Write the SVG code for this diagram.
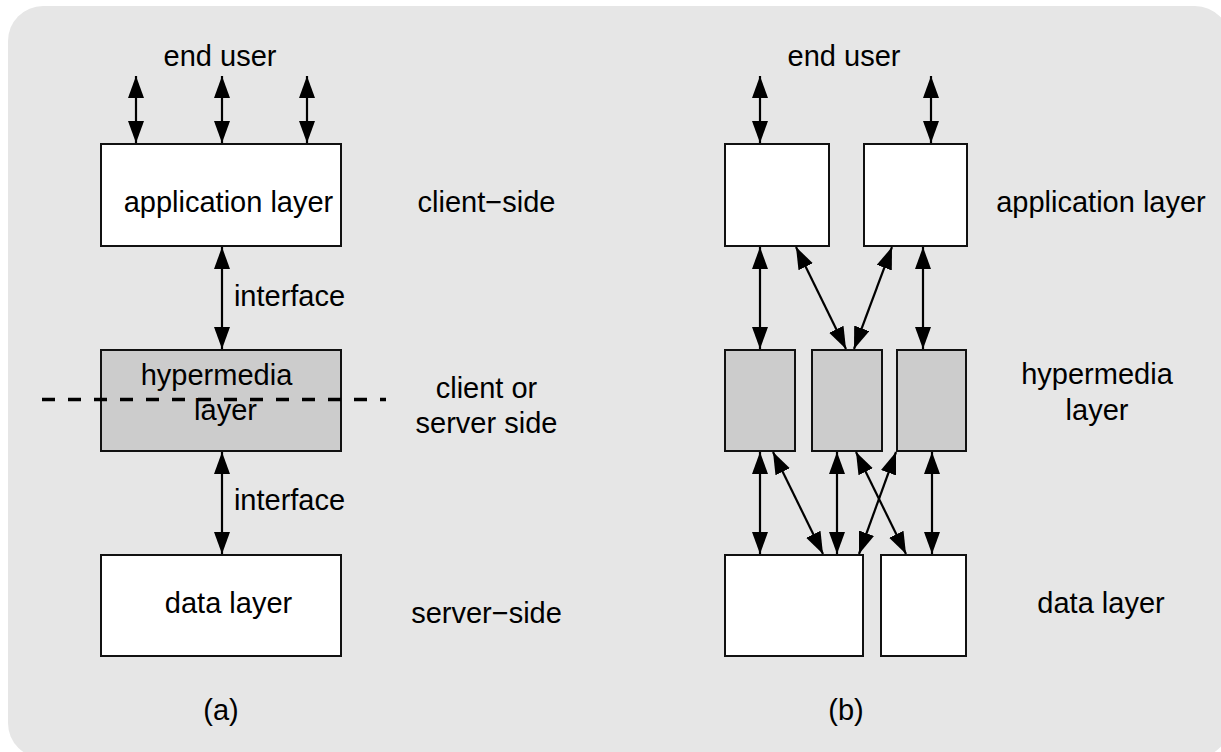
<svg xmlns="http://www.w3.org/2000/svg" width="1221" height="752" viewBox="0 0 1221 752">
<style>
text{font-family:"Liberation Sans",Arial,sans-serif;font-size:29px;fill:#000;text-anchor:middle}
.box{fill:#fff;stroke:#111;stroke-width:2}
.hyp{fill:#ccc;stroke:#111;stroke-width:2}
.c line{stroke:#000;stroke-width:2.2;marker-start:url(#ah);marker-end:url(#ah)}
</style>
<defs>
<marker id="ah" markerUnits="userSpaceOnUse" markerWidth="24" markerHeight="17" refX="22" refY="8" orient="auto-start-reverse" viewBox="0 0 24 17">
<path d="M0,0 L22,8 L0,16 z" fill="#000"/>
</marker>
</defs>
<rect x="8" y="6" width="1222" height="752" rx="35" ry="35" fill="#e6e6e6"/>

<g id="a-app"><rect class="box" x="101" y="144" width="240" height="102"/><text x="228.5" y="212">application layer</text></g>
<g id="a-hyp"><rect class="hyp" x="101" y="350" width="240" height="101"/><text x="216.5" y="385">hypermedia</text><text x="225.5" y="420">layer</text></g>
<g id="a-data"><rect class="box" x="101" y="555" width="240" height="101"/><text x="228.5" y="613">data layer</text></g>

<g id="b-app1"><rect class="box" x="725" y="144" width="104" height="102"/></g>
<g id="b-app2"><rect class="box" x="864" y="144" width="103" height="102"/></g>
<g id="b-hyp1"><rect class="hyp" x="725" y="350" width="70" height="101"/></g>
<g id="b-hyp2"><rect class="hyp" x="812" y="350" width="70" height="101"/></g>
<g id="b-hyp3"><rect class="hyp" x="897" y="350" width="69" height="101"/></g>
<g id="b-data1"><rect class="box" x="725" y="555" width="138" height="101"/></g>
<g id="b-data2"><rect class="box" x="881" y="555" width="85" height="101"/></g>

<g id="dash"><line x1="42" y1="399.5" x2="386" y2="399.5" stroke="#000" stroke-width="3.5" stroke-dasharray="13 13"/></g>

<g class="c" id="connectors">
<line x1="136" y1="76" x2="136" y2="143"/>
<line x1="222" y1="76" x2="222" y2="143"/>
<line x1="307" y1="76" x2="307" y2="143"/>
<line x1="222" y1="247" x2="222" y2="349"/>
<line x1="222" y1="452" x2="222" y2="554"/>
<line x1="760" y1="76" x2="760" y2="143"/>
<line x1="931" y1="76" x2="931" y2="143"/>
<line x1="760" y1="247" x2="760" y2="349"/>
<line x1="796" y1="247" x2="846" y2="349"/>
<line x1="892" y1="247" x2="854" y2="349"/>
<line x1="923" y1="247" x2="923" y2="349"/>
<line x1="760" y1="452" x2="760" y2="554"/>
<line x1="773" y1="452" x2="823" y2="554"/>
<line x1="837" y1="452" x2="837" y2="554"/>
<line x1="896" y1="452" x2="859" y2="554"/>
<line x1="856" y1="452" x2="906" y2="554"/>
<line x1="932" y1="452" x2="932" y2="554"/>
</g>

<g id="labels">
<text x="220" y="66">end user</text>
<text x="289.5" y="306">interface</text>
<text x="289.5" y="510">interface</text>
<text x="486.5" y="212">client−side</text>
<text x="486.5" y="398">client or</text>
<text x="486.5" y="432.5">server side</text>
<text x="486.5" y="622.5">server−side</text>
<text x="221" y="720">(a)</text>
<text x="844" y="66">end user</text>
<text x="1101" y="212">application layer</text>
<text x="1097" y="384">hypermedia</text>
<text x="1097" y="420">layer</text>
<text x="1101" y="613">data layer</text>
<text x="846" y="720">(b)</text>
</g>
</svg>
